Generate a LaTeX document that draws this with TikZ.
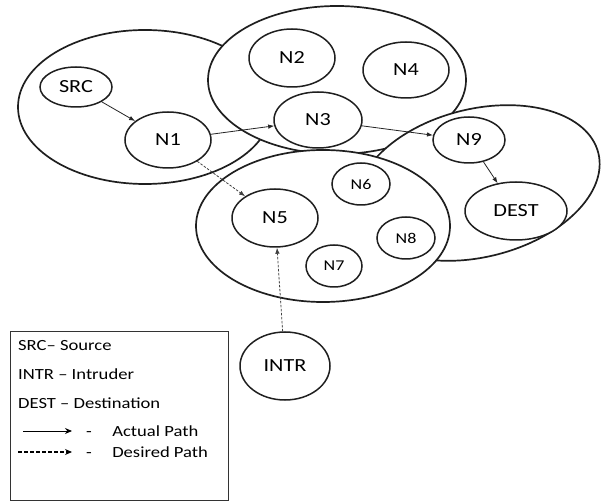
\documentclass[tikz,border=0pt]{standalone}
\usepackage{fontspec}
\usepackage{graphicx}
\setmainfont{Carlito}
\usetikzlibrary{shapes.geometric,arrows.meta}
\newcommand\hs[1]{\scalebox{1.2}[1]{#1}}
\begin{document}
\begin{tikzpicture}[x=1pt,y=-1pt,
  cluster/.style={ellipse, draw=black!88, line width=1.7pt, fill=white, inner sep=0pt},
  host/.style={ellipse, draw=black!88, line width=1.5pt, fill=white, inner sep=0pt, font=\fontsize{18.5}{20}\selectfont},
  smallhost/.style={host, font=\fontsize{15}{16}\selectfont},
  actual/.style={draw=black!85, line width=0.8pt, -{Latex[length=6pt,width=4.5pt]}},
  desired/.style={actual, draw=black!75, dash pattern=on 2.5pt off 1.5pt},
  legtext/.style={anchor=west, inner sep=0pt, font=\fontsize{15.5}{17}\selectfont},
  legbox/.style={draw=black!80, line width=1pt, rectangle, inner sep=0pt}
]
\useasboundingbox (0,0) rectangle (605,502);

% clusters
\node[cluster, minimum width=254pt, minimum height=154pt] (cA) at (145,107) {};
\node[cluster, minimum width=258pt, minimum height=148pt] (cB) at (337,80) {};
\node[cluster, minimum width=248pt, minimum height=148pt, rotate=14] (cC) at (478,183) {};
\node[cluster, minimum width=254pt, minimum height=152pt] (cD) at (323,226) {};

% hosts
\node[host, minimum width=72pt, minimum height=40pt] (src) at (76,87) {\hs{SRC}};
\node[host, minimum width=86pt, minimum height=56pt] (n1) at (168,140) {\hs{N1}};
\node[host, minimum width=86pt, minimum height=58pt] (n2) at (292,58) {\hs{N2}};
\node[host, minimum width=86pt, minimum height=56pt] (n4) at (406,70) {\hs{N4}};
\node[host, minimum width=88pt, minimum height=56pt] (n3) at (318,120) {\hs{N3}};
\node[host, minimum width=72pt, minimum height=46pt] (n9) at (469,140) {\hs{N9}};
\node[host, minimum width=102pt, minimum height=58pt] (dest) at (516,211) {\hs{DEST}};
\node[host, minimum width=86pt, minimum height=58pt] (n5) at (275,218) {\hs{N5}};
\node[smallhost, minimum width=58pt, minimum height=42pt] (n6) at (361,184) {\hs{N6}};
\node[smallhost, minimum width=58pt, minimum height=42pt] (n8) at (406,238) {\hs{N8}};
\node[smallhost, minimum width=56pt, minimum height=42pt] (n7) at (334,266) {\hs{N7}};
\node[host, minimum width=90pt, minimum height=68pt] (intr) at (285,366) {\hs{INTR}};

% connectors
\draw[actual] (src) -- (n1);
\draw[actual] (n1) -- (n3);
\draw[actual] (n3) -- (n9);
\draw[actual] (n9) -- (dest);
\draw[desired] (n1) -- (n5);
\draw[desired] (intr) -- (n5);

% legend
\node[legbox, minimum width=218pt, minimum height=168pt] (legend) at (119,416) {};
\node[legtext] (l1) at (18,346) {\hs{SRC– Source}};
\node[legtext] (l2) at (18,374) {\hs{INTR – Intruder}};
\node[legtext] (l3) at (18,403) {\hs{DEST – Destination}};
\coordinate (a1s) at (23,431);
\coordinate (a1e) at (72,431);
\coordinate (a2s) at (18,452);
\coordinate (a2e) at (72,452);
\draw[draw=black, line width=1pt, -{Stealth[length=7pt,width=6pt]}] (a1s) -- (a1e);
\draw[draw=black, line width=1.4pt, dash pattern=on 4pt off 2pt, -{Stealth[length=7pt,width=6pt]}] (a2s) -- (a2e);
\node[legtext] (l4) at (86,431) {\hs{-\hspace{17pt}Actual Path}};
\node[legtext] (l5) at (86,452) {\hs{-\hspace{17pt}Desired Path}};
\end{tikzpicture}
\end{document}
